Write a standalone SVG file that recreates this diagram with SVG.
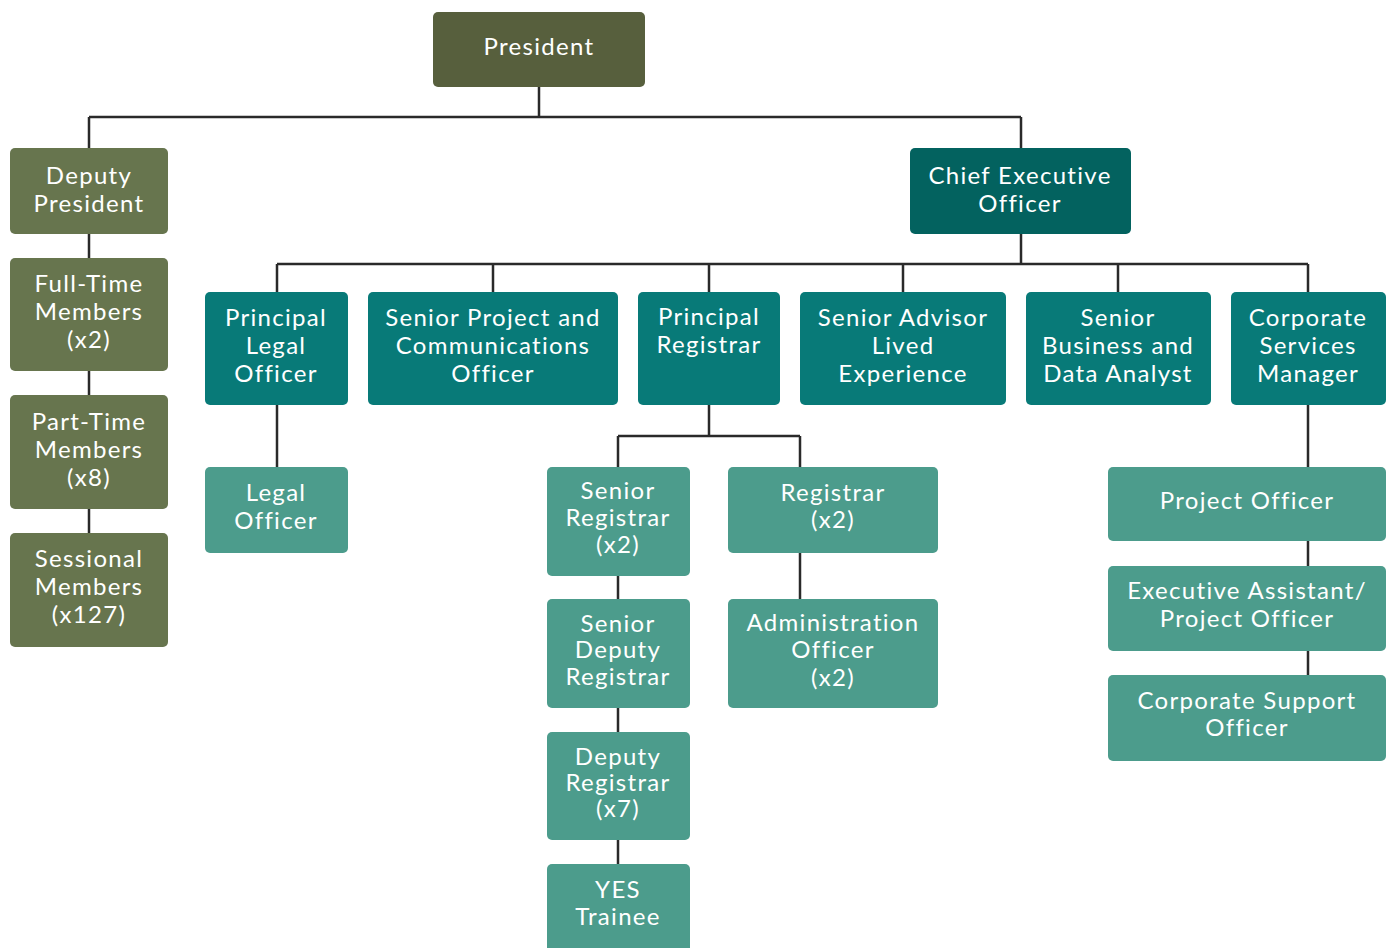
<svg xmlns="http://www.w3.org/2000/svg" width="1392" height="948" viewBox="0 0 1392 948">
<style>
.n rect{rx:5;ry:5}
.pres{fill:#575f3d}
.olive{fill:#67754e}
.ceo{fill:#03625f}
.teal{fill:#087a78}
.light{fill:#4c9c8c}
text{font-family:"Lato","Liberation Sans",sans-serif;font-size:24px;fill:#ffffff;text-anchor:middle;letter-spacing:1.3px}
.c{fill:none;stroke:#2a2a2a;stroke-width:2.5}
</style>
<rect width="1392" height="948" fill="#ffffff"/>
<g id="connectors" class="c">
<path d="M539 87V117M89 117H1021M89 117V148M1021 117V148"/>
<path d="M89 234V533"/>
<path d="M1021 234V264M277 264H1308M277 264V292M493 264V292M709 264V292M903 264V292M1118 264V292M1308 264V292"/>
<path d="M277 405V467"/>
<path d="M709 405V436M618 436H800M618 436V467M800 436V467"/>
<path d="M618 576V864"/>
<path d="M800 553V599"/>
<path d="M1308 405V675"/>
</g>
<g id="president" class="n"><rect class="pres" x="433" y="12" width="212" height="75"/><text x="539" y="55">President</text></g>
<g id="deputy-president" class="n"><rect class="olive" x="10" y="148" width="158" height="86"/><text x="89" y="184">Deputy</text><text x="89" y="212">President</text></g>
<g id="full-time" class="n"><rect class="olive" x="10" y="258" width="158" height="113"/><text x="89" y="292">Full-Time</text><text x="89" y="320">Members</text><text x="89" y="348">(x2)</text></g>
<g id="part-time" class="n"><rect class="olive" x="10" y="395" width="158" height="114"/><text x="89" y="430">Part-Time</text><text x="89" y="458">Members</text><text x="89" y="486">(x8)</text></g>
<g id="sessional" class="n"><rect class="olive" x="10" y="533" width="158" height="114"/><text x="89" y="567">Sessional</text><text x="89" y="595">Members</text><text x="89" y="623">(x127)</text></g>
<g id="ceo" class="n"><rect class="ceo" x="910" y="148" width="221" height="86"/><text x="1020" y="184">Chief Executive</text><text x="1020" y="212">Officer</text></g>
<g id="principal-legal" class="n"><rect class="teal" x="205" y="292" width="143" height="113"/><text x="276" y="326">Principal</text><text x="276" y="354">Legal</text><text x="276" y="382">Officer</text></g>
<g id="senior-project" class="n"><rect class="teal" x="368" y="292" width="250" height="113"/><text x="493" y="326">Senior Project and</text><text x="493" y="354">Communications</text><text x="493" y="382">Officer</text></g>
<g id="principal-registrar" class="n"><rect class="teal" x="638" y="292" width="142" height="113"/><text x="709" y="325">Principal</text><text x="709" y="353">Registrar</text></g>
<g id="senior-advisor" class="n"><rect class="teal" x="800" y="292" width="206" height="113"/><text x="903" y="326">Senior Advisor</text><text x="903" y="354">Lived</text><text x="903" y="382">Experience</text></g>
<g id="senior-business" class="n"><rect class="teal" x="1026" y="292" width="185" height="113"/><text x="1118" y="326">Senior</text><text x="1118" y="354">Business and</text><text x="1118" y="382">Data Analyst</text></g>
<g id="corporate-services" class="n"><rect class="teal" x="1231" y="292" width="155" height="113"/><text x="1308" y="326">Corporate</text><text x="1308" y="354">Services</text><text x="1308" y="382">Manager</text></g>
<g id="legal-officer" class="n"><rect class="light" x="205" y="467" width="143" height="86"/><text x="276" y="501">Legal</text><text x="276" y="529">Officer</text></g>
<g id="senior-registrar" class="n"><rect class="light" x="547" y="467" width="143" height="109"/><text x="618" y="499">Senior</text><text x="618" y="526">Registrar</text><text x="618" y="553">(x2)</text></g>
<g id="registrar" class="n"><rect class="light" x="728" y="467" width="210" height="86"/><text x="833" y="501">Registrar</text><text x="833" y="528">(x2)</text></g>
<g id="senior-deputy-registrar" class="n"><rect class="light" x="547" y="599" width="143" height="109"/><text x="618" y="632">Senior</text><text x="618" y="658">Deputy</text><text x="618" y="685">Registrar</text></g>
<g id="administration-officer" class="n"><rect class="light" x="728" y="599" width="210" height="109"/><text x="833" y="631">Administration</text><text x="833" y="658">Officer</text><text x="833" y="686">(x2)</text></g>
<g id="deputy-registrar" class="n"><rect class="light" x="547" y="732" width="143" height="108"/><text x="618" y="765">Deputy</text><text x="618" y="791">Registrar</text><text x="618" y="817">(x7)</text></g>
<g id="yes-trainee" class="n"><rect class="light" x="547" y="864" width="143" height="90"/><text x="618" y="898">YES</text><text x="618" y="925">Trainee</text></g>
<g id="project-officer" class="n"><rect class="light" x="1108" y="467" width="278" height="74"/><text x="1247" y="509">Project Officer</text></g>
<g id="executive-assistant" class="n"><rect class="light" x="1108" y="566" width="278" height="85"/><text x="1247" y="599">Executive Assistant/</text><text x="1247" y="627">Project Officer</text></g>
<g id="corporate-support" class="n"><rect class="light" x="1108" y="675" width="278" height="86"/><text x="1247" y="709">Corporate Support</text><text x="1247" y="736">Officer</text></g>
</svg>
